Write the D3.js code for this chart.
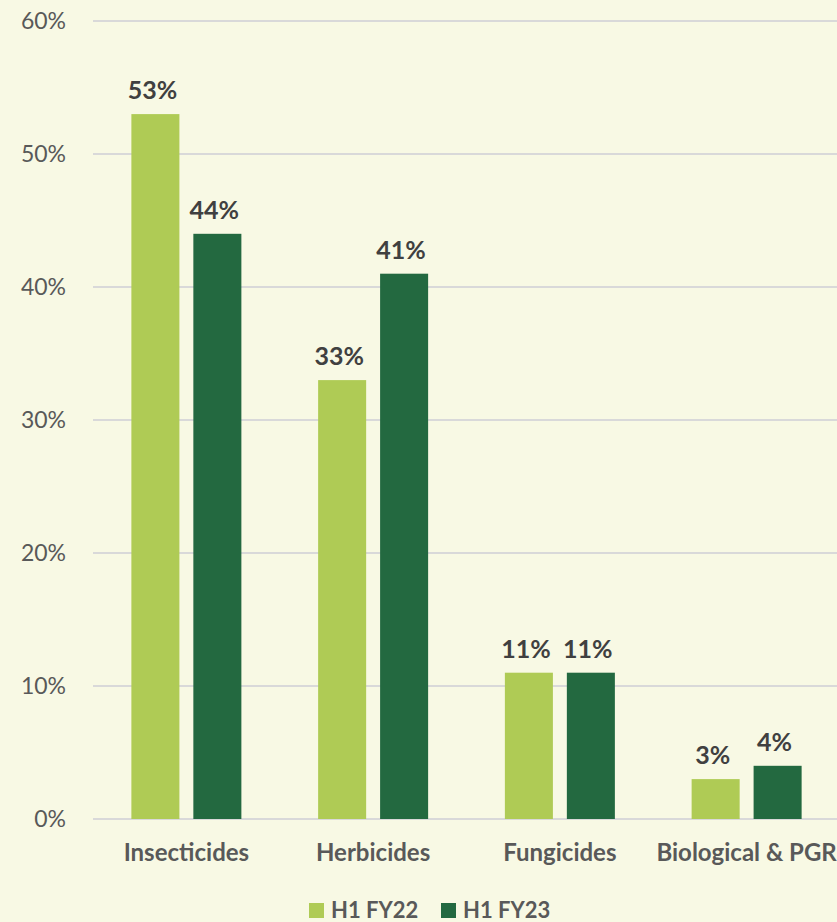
<!DOCTYPE html>
<html>
<head>
<meta charset="utf-8">
<script src="https://cdn.jsdelivr.net/npm/d3@7"></script>
<style>
  html, body { margin: 0; padding: 0; background: #f8f9e4; }
  svg { display: block; font-family: Lato, "Open Sans", sans-serif; }
</style>
</head>
<body>
<svg id="chart" width="837" height="922"></svg>
<script>
// data
const categories = ["Insecticides", "Herbicides", "Fungicides", "Biological & PGR"];
const seriesNames = ["H1 FY22", "H1 FY23"];
const fy22 = [53, 33, 11, 3];
const fy23 = [44, 41, 11, 4];
const yTicks = [0, 10, 20, 30, 40, 50, 60];
const colors = ["#afcb55", "#236940"];

const svg = d3.select("#chart");
const W = 837, H = 922;

svg.append("rect").attr("width", W).attr("height", H).attr("fill", "#f8f9e4");

const plotLeft = 93, plotRight = 840, plotTop = 21, plotBottom = 819;

// scales
let x0 = d3.scaleBand().domain(categories).range([plotLeft, plotRight]).padding(0);
let x1 = d3.scaleBand().domain(seriesNames).range([-55, 55]).paddingInner(0.225);
let y = d3.scaleLinear().domain([0, 60]).range([plotBottom, plotTop]);

// gridlines
svg.append("g").selectAll("line")
  .data(yTicks)
  .enter().append("line")
  .attr("x1", plotLeft).attr("x2", W)
  .attr("y1", d => y(d)).attr("y2", d => y(d))
  .attr("stroke", "#d9d9d9").attr("stroke-width", 2);

// y axis labels
svg.append("g").selectAll("text")
  .data(yTicks)
  .enter().append("text")
  .attr("x", 66).attr("y", d => y(d) + 8)
  .attr("text-anchor", "end")
  .attr("font-size", 23)
  .attr("fill", "#595959")
  .text(d => d + "%");

// rows for bars
let rows = categories.map((c, i) => ({cat: c, vals: [fy22[i], fy23[i]]}));

let groups = svg.append("g").selectAll("g")
  .data(rows)
  .enter().append("g")
  .attr("transform", d => "translate(" + (x0(d.cat) + x0.bandwidth() / 2) + ",0)");

groups.selectAll("rect")
  .data(d => d.vals.map((v, j) => ({s: seriesNames[j], v: v, j: j})))
  .enter().append("rect")
  .attr("x", d => x1(d.s))
  .attr("width", x1.bandwidth())
  .attr("y", d => y(d.v))
  .attr("height", d => plotBottom - y(d.v))
  .attr("fill", d => colors[d.j]);

// data labels
groups.selectAll("text")
  .data(d => d.vals.map((v, j) => ({s: seriesNames[j], v: v})))
  .enter().append("text")
  .attr("x", d => x1(d.s) + x1.bandwidth() / 2 - 3)
  .attr("y", d => y(d.v) - 15)
  .attr("text-anchor", "middle")
  .attr("font-size", 25)
  .attr("font-weight", "bold")
  .attr("fill", "#404040")
  .text(d => d.v + "%");

// category labels
svg.append("g").selectAll("text")
  .data(categories)
  .enter().append("text")
  .attr("x", d => x0(d) + x0.bandwidth() / 2)
  .attr("y", 861)
  .attr("text-anchor", "middle")
  .attr("font-size", 24)
  .attr("font-weight", "bold")
  .attr("fill", "#595959")
  .text(d => d);

// legend
const legendX = [309, 441];
let legend = svg.append("g").selectAll("g")
  .data(seriesNames)
  .enter().append("g")
  .attr("transform", (d, i) => "translate(" + legendX[i] + ",903)");
legend.append("rect")
  .attr("width", 15).attr("height", 15)
  .attr("fill", (d, i) => colors[i]);
legend.append("text")
  .attr("x", 22).attr("y", 15)
  .attr("font-size", 22)
  .attr("font-weight", "bold")
  .attr("fill", "#595959")
  .text(d => d);
</script>
</body>
</html>
